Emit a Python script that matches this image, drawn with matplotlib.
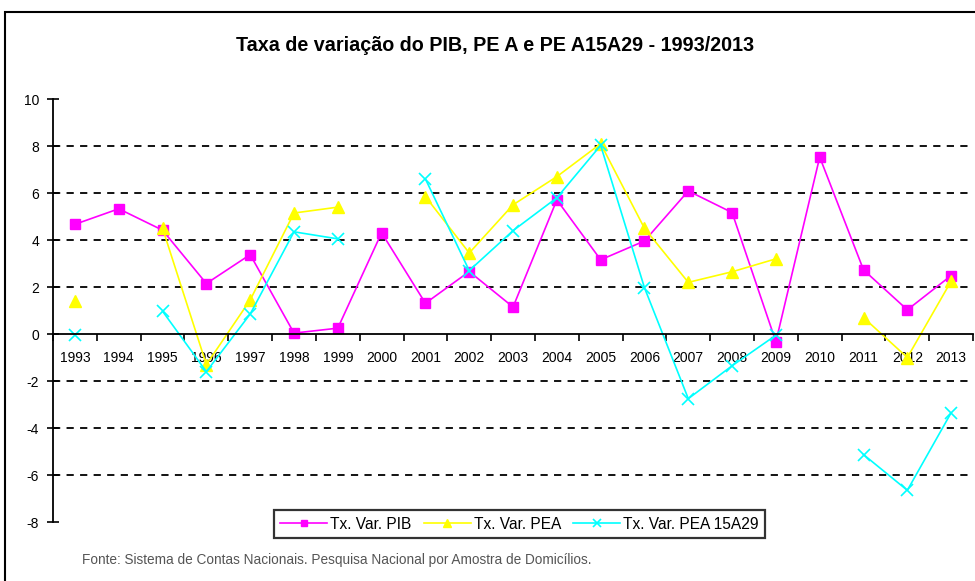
import numpy as np
import matplotlib.pyplot as plt
from matplotlib.patches import Rectangle

plt.rcParams['font.family'] = ['Liberation Sans', 'DejaVu Sans']

anos = [str(a) for a in range(1993, 2014)]
nan = np.nan
pib = [4.67, 5.33, 4.42, 2.15, 3.38, 0.04, 0.25, 4.31, 1.31, 2.66, 1.15,
       5.71, 3.16, 3.96, 6.09, 5.17, -0.33, 7.53, 2.73, 1.03, 2.49]
pea = [1.4, nan, 4.5, -1.3, 1.45, 5.15, 5.4, nan, 5.85, 3.45, 5.5,
       6.7, 8.1, 4.5, 2.2, 2.65, 3.2, nan, 0.7, -1.0, 2.25]
pea1529 = [-0.05, nan, 0.97, -1.6, 0.85, 4.35, 4.05, nan, 6.6, 2.7, 4.4,
           5.8, 8.03, 1.97, -2.75, -1.35, -0.05, nan, -5.13, -6.65, -3.35]
yticks = [10, 8, 6, 4, 2, 0, -2, -4, -6, -8]

fig = plt.figure(figsize=(9.75, 5.81), dpi=100)
ax = fig.add_axes([0.0544, 0.1015, 0.9436, 0.728])

x = np.arange(len(anos))
ax.plot(x, pib, color='#FF00FF', lw=1.2, marker='s', ms=6.5, label='Tx. Var. PIB')
ax.plot(x, pea, color='#FFFF00', lw=1.2, marker='^', ms=9, label='Tx. Var. PEA')
ax.plot(x, pea1529, color='#00FFFF', lw=1.2, marker='x', ms=8, mew=1.2,
        label='Tx. Var. PEA 15A29')

for v in yticks[1:-1]:
    if v != 0:
        ax.axhline(v, color='black', lw=1.3, ls=(0, (4, 3.5)), zorder=0)

ax.set_xlim(-0.5, len(anos) - 0.5)
ax.set_ylim(-8, 10)
ax.set_yticks(yticks)
ax.set_yticklabels([str(v) for v in yticks], fontsize=10)
ax.tick_params(axis='y', direction='inout', length=8, width=1.2, pad=6)

ax.spines['bottom'].set_position(('data', 0))
ax.spines['top'].set_visible(False)
ax.spines['right'].set_visible(False)
ax.spines['left'].set_linewidth(1.3)
ax.spines['bottom'].set_linewidth(1.3)

ax.set_xticks(np.arange(len(anos) + 1) - 0.5)
ax.set_xticklabels([])
ax.tick_params(axis='x', which='major', direction='out', length=5, width=1.2)
ax.set_xticks(x, minor=True)
ax.set_xticklabels(anos, minor=True, fontsize=10)
ax.tick_params(axis='x', which='minor', length=0, pad=12)

fig.text(0.508, 0.921, 'Taxa de variação do PIB, PE A e PE A15A29 - 1993/2013',
         ha='center', va='center', fontsize=14.2, fontweight='bold')

leg = ax.legend(loc='center', bbox_to_anchor=(0.507, -0.005), ncol=3,
                fontsize=11.2, frameon=True, fancybox=False, shadow=False,
                handlelength=3, handletextpad=0.2, columnspacing=0.8,
                borderpad=0.4, markerscale=0.7)
leg.get_frame().set_edgecolor('black')
leg.get_frame().set_linewidth(1.6)

fig.text(0.084, 0.036, 'Fonte: Sistema de Contas Nacionais. Pesquisa Nacional por Amostra de Domicílios.',
         ha='left', va='center', fontsize=9.8, color='#555555')

fig.patches.append(Rectangle((0.005, -0.05), 1.2, 1.029,
                             transform=fig.transFigure, fill=False,
                             edgecolor='black', lw=1.5))

fig.savefig('out.png', dpi=100)
